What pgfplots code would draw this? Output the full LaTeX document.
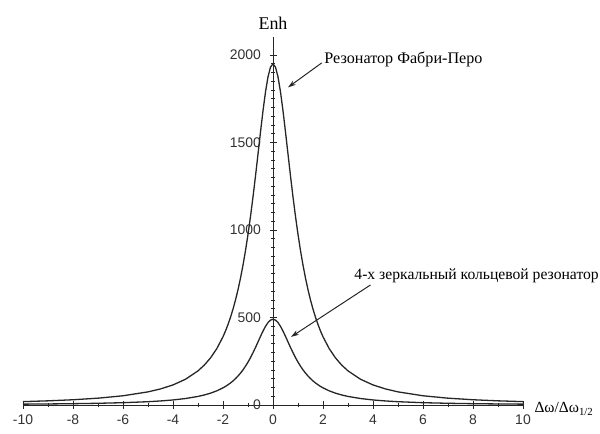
\documentclass[border=0pt]{standalone}
\usepackage{fontspec}
\setmainfont{Liberation Serif}
\newfontfamily\ticksf{Liberation Sans}
\usepackage{pgfplots}
\pgfplotsset{compat=1.18}
\usetikzlibrary{arrows.meta}

% Fabry-Perot resonator
\pgfplotstableread{
x y
-10 19.3
-9 23.8
-8 30.0
-7 39.0
-6 52.7
-5 75.0
-4.5 91.8
-4 114.7
-3.5 147.2
-3 195.0
-2.75 227.7
-2.5 269.0
-2.25 321.6
-2 390.0
-1.9 423.0
-1.8 459.9
-1.7 501.3
-1.6 547.8
-1.5 600.0
-1.4 658.8
-1.3 724.9
-1.2 799.2
-1.1 882.4
-1 975.0
-0.9 1077.3
-0.8 1189.0
-0.7 1308.7
-0.6 1433.8
-0.5 1560.0
-0.4 1681.0
-0.3 1789.0
-0.2 1875.0
-0.1 1930.7
0 1950
0.1 1930.7
0.2 1875.0
0.3 1789.0
0.4 1681.0
0.5 1560.0
0.6 1433.8
0.7 1308.7
0.8 1189.0
0.9 1077.3
1 975.0
1.1 882.4
1.2 799.2
1.3 724.9
1.4 658.8
1.5 600.0
1.6 547.8
1.7 501.3
1.8 459.9
1.9 423.0
2 390.0
2.25 321.6
2.5 269.0
2.75 227.7
3 195.0
3.5 147.2
4 114.7
4.5 91.8
5 75.0
6 52.7
7 39.0
8 30.0
9 23.8
10 19.3
}\fabry

% 4-mirror ring resonator
\pgfplotstableread{
x y
-10 4.9
-9 6.0
-8 7.5
-7 9.8
-6 13.2
-5 18.8
-4.5 23.1
-4 28.8
-3.5 37.0
-3 49.0
-2.75 57.2
-2.5 67.6
-2.25 80.8
-2 98.0
-1.9 106.3
-1.8 115.6
-1.7 126.0
-1.6 137.6
-1.5 150.8
-1.4 165.5
-1.3 182.2
-1.2 200.8
-1.1 221.7
-1 245.0
-0.9 270.7
-0.8 298.8
-0.7 328.9
-0.6 360.3
-0.5 392.0
-0.4 422.4
-0.3 449.5
-0.2 471.2
-0.1 485.1
0 490
0.1 485.1
0.2 471.2
0.3 449.5
0.4 422.4
0.5 392.0
0.6 360.3
0.7 328.9
0.8 298.8
0.9 270.7
1 245.0
1.1 221.7
1.2 200.8
1.3 182.2
1.4 165.5
1.5 150.8
1.6 137.6
1.7 126.0
1.8 115.6
1.9 106.3
2 98.0
2.25 80.8
2.5 67.6
2.75 57.2
3 49.0
3.5 37.0
4 28.8
4.5 23.1
5 18.8
6 13.2
7 9.8
8 7.5
9 6.0
10 4.9
}\ring

\begin{document}
\begin{tikzpicture}
\begin{axis}[
  scale only axis,
  width=500bp,
  height=367.5bp,
  axis lines=middle,
  axis line style={-, line width=0.9bp, black!85},
  xmin=-10, xmax=10,
  ymin=0, ymax=2100,
  xtick={-10,-8,-6,-4,-2,0,2,4,6,8,10},
  minor x tick num=1,
  ytick={0,500,1000,1500,2000},
  minor y tick num=9,
  hide obscured x ticks=false,
  hide obscured y ticks=false,
  tick align=center,
  major tick length=7bp,
  minor tick length=4bp,
  tick style={black!85, line width=0.7bp},
  ticklabel style={font=\ticksf\fontsize{14}{16}\selectfont, black!80},
  xticklabel style={yshift=-3bp},
  yticklabel style={xshift=-5bp},
  /pgf/number format/assume math mode=true,
  /pgf/number format/set thousands separator={},
  xlabel={Δω/Δω\textsubscript{1/2}},
  ylabel={Enh},
  xlabel style={anchor=west, yshift=-4bp, xshift=8bp, font=\fontsize{15.5}{18}\selectfont},
  ylabel style={anchor=south, yshift=4bp, font=\fontsize{18}{20}\selectfont},
  clip=false,
]
\addplot[black!85, line width=1.3bp] table[x=x, y=y] {\fabry};
\addplot[black!85, line width=1.3bp] table[x=x, y=y] {\ring};

\node[anchor=west, font=\fontsize{16.2}{19}\selectfont, inner sep=0pt]
  at (axis cs:2.05,1972) {Резонатор Фабри-Перо};
\draw[-{Stealth[length=8bp, width=5bp]}, line width=1bp, black!85]
  (axis cs:1.95,1955) -- (axis cs:0.6,1815);

\node[anchor=west, font=\fontsize{15.7}{18}\selectfont, inner sep=0pt]
  at (axis cs:3.25,740) {4-х зеркальный кольцевой резонатор};
\draw[-{Stealth[length=8bp, width=5bp]}, line width=1bp, black!85]
  (axis cs:3.9,686) -- (axis cs:0.72,389);

\coordinate (bl) at (axis cs:-10,0);
\coordinate (tr) at (axis cs:10,2100);
\end{axis}
\path[use as bounding box] ([shift={(-23bp,-29bp)}]bl) rectangle ([shift={(77bp,37.5bp)}]tr);
\end{tikzpicture}
\end{document}
